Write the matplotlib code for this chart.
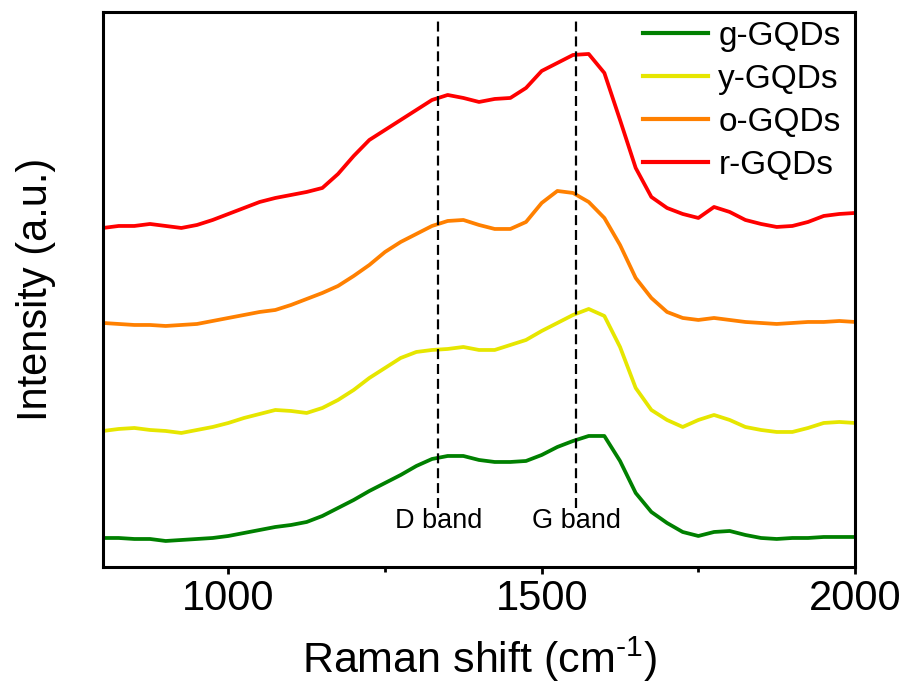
import numpy as np
import matplotlib
matplotlib.use("Agg")
import matplotlib.pyplot as plt
from matplotlib.ticker import MultipleLocator

plt.rcParams['font.family'] = ['Liberation Sans', 'DejaVu Sans']
plt.rcParams['mathtext.fontset'] = 'custom'
plt.rcParams['mathtext.rm'] = 'Liberation Sans'
plt.rcParams['mathtext.it'] = 'Liberation Sans'

# Raman shift grid (cm-1) and intensities (stacked, a.u.)
shift = [800, 825, 850, 875, 900, 925, 950, 975, 1000, 1025, 1050, 1075,
         1100, 1125, 1150, 1175, 1200, 1225, 1250, 1275, 1300, 1325, 1350,
         1375, 1400, 1425, 1450, 1475, 1500, 1525, 1550, 1575, 1600, 1625,
         1650, 1675, 1700, 1725, 1750, 1775, 1800, 1825, 1850, 1875, 1900,
         1925, 1950, 1975, 2000]

g_gqds = [29, 29, 28, 28, 26, 27, 28, 29, 31, 34, 37, 40,
          42, 45, 51, 59, 67, 76, 84, 92, 101, 108, 111,
          111, 107, 105, 105, 106, 112, 120, 126, 131, 131, 106,
          74, 55, 44, 35, 31, 35, 36, 32, 29, 28, 29,
          29, 30, 30, 30]

y_gqds = [136, 138, 139, 137, 136, 134, 137, 140, 144, 149, 153, 157,
          156, 154, 159, 167, 177, 189, 199, 209, 215, 217, 218,
          220, 217, 217, 222, 227, 236, 244, 252, 258, 251, 220,
          179, 157, 147, 140, 147, 152, 147, 140, 137, 135, 135,
          139, 144, 145, 144]

o_gqds = [244, 243, 242, 242, 241, 242, 243, 246, 249, 252, 255, 257,
          262, 268, 274, 281, 291, 302, 315, 325, 333, 341, 346,
          347, 342, 338, 338, 345, 364, 376, 374, 365, 349, 322,
          289, 269, 255, 249, 247, 249, 247, 245, 244, 243, 244,
          245, 245, 246, 245]

r_gqds = [339, 341, 341, 343, 341, 339, 342, 347, 353, 359, 365, 369,
          372, 375, 379, 393, 411, 427, 437, 447, 457, 467, 472,
          469, 465, 468, 469, 479, 496, 504, 512, 513, 494, 447,
          399, 370, 359, 353, 349, 360, 355, 347, 343, 340, 341,
          345, 351, 353, 354]

labels = ['g-GQDs', 'y-GQDs', 'o-GQDs', 'r-GQDs']
colors = ['#008000', '#e6e600', '#ff8000', '#ff0000']
bands = [1335, 1555]
band_names = ['D band', 'G band']

fig = plt.figure(figsize=(9.1, 6.87), dpi=100)
ax = fig.add_axes([0.1132, 0.1747, 0.8264, 0.8079])

for series, lab, col in zip([g_gqds, y_gqds, o_gqds, r_gqds], labels, colors):
    ax.plot(shift, series, color=col, lw=2.7, label=lab)

ax.vlines(bands, 59, 547, colors='black', lw=1.6, linestyles=(0, (4.5, 2.2)))
for b, name in zip(bands, band_names):
    ax.text(b, 46, name, ha='center', va='center', fontsize=19.5)

ax.set_xlim(800, 2000)
ax.set_ylim(0, 555)
ax.set_yticks([])
ax.xaxis.set_major_locator(MultipleLocator(500))
ax.xaxis.set_minor_locator(MultipleLocator(250))
ax.tick_params(axis='x', which='major', direction='out', length=5, width=2,
               labelsize=30, pad=4)
ax.tick_params(axis='x', which='minor', direction='out', length=3.5, width=2)
for sp in ax.spines.values():
    sp.set_linewidth(2.2)

ax.set_xlabel(r'Raman shift (cm$^{\text{-1}}$)', fontsize=31, labelpad=11)
ax.set_ylabel('Intensity (a.u.)', fontsize=30, labelpad=34)

leg = ax.legend(loc='upper right', bbox_to_anchor=(1.012, 1.026), frameon=False,
                fontsize=24, handlelength=1.95, handletextpad=0.3,
                labelspacing=0.36, borderaxespad=0.3)
for line in leg.get_lines():
    line.set_linewidth(3)

fig.savefig('out.png', dpi=100)
